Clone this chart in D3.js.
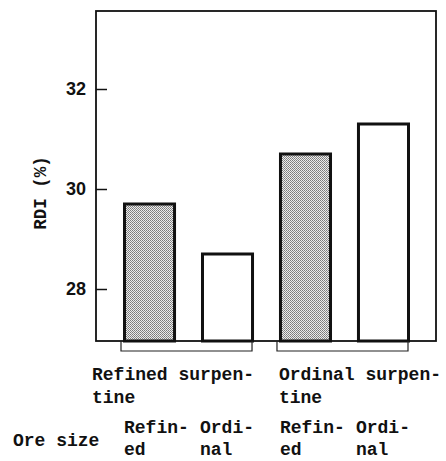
<!DOCTYPE html>
<html lang="en">
<head>
<meta charset="UTF-8">
<title>RDI by ore size</title>
<style>
  body { margin: 0; background: #fff; }
  text { fill: #111; }
</style>
</head>
<body>
<svg id="chart" width="446" height="461"></svg>
<script src="https://cdn.jsdelivr.net/npm/d3@7"></script>
<script>
// bars, left to right
var barKeys = ["rs-refined", "rs-ordinal", "os-refined", "os-ordinal"];
var rdiValues = [29.7, 28.7, 30.7, 31.3];
var shaded = [true, false, true, false];
var oreSizeLabels = [["Refin-", "ed"], ["Ordi-", "nal"], ["Refin-", "ed"], ["Ordi-", "nal"]];

// serpentine groups (first bar index, last bar index)
var groupLabels = [["Refined surpen-", "tine"], ["Ordinal surpen-", "tine"]];
var groupSpans = [[0, 1], [2, 3]];

var yTicks = [28, 30, 32];

var svg = d3.select("#chart");
var mono = "'Liberation Mono', 'DejaVu Sans Mono', monospace";
var labelSize = 18;

var box = { left: 96, right: 436, top: 11, bottom: 341 };

var y = d3.scaleLinear().domain([26.96, 33.56]).range([box.bottom, box.top]);
var x = d3.scaleBand().domain(barKeys).range([123, 410]).paddingInner(0.32).paddingOuter(0);

// stipple pattern for the shaded bars
var pat = svg.append("defs").append("pattern")
    .attr("id", "stipple")
    .attr("width", 2).attr("height", 2)
    .attr("patternUnits", "userSpaceOnUse");
pat.append("rect").attr("width", 2).attr("height", 2).attr("fill", "#ececec");
pat.append("rect").attr("width", 1).attr("height", 1).attr("fill", "#7a7a7a");
pat.append("rect").attr("x", 1).attr("y", 1).attr("width", 1).attr("height", 1).attr("fill", "#8c8c8c");

// bars
svg.append("g").selectAll("rect")
    .data(rdiValues)
    .join("rect")
    .attr("x", (d, i) => x(barKeys[i]) + 1.5)
    .attr("y", d => y(d))
    .attr("width", x.bandwidth() - 3)
    .attr("height", d => box.bottom - y(d))
    .attr("fill", (d, i) => shaded[i] ? "url(#stipple)" : "#fff")
    .attr("stroke", "#111")
    .attr("stroke-width", 3);

// frame
svg.append("rect")
    .attr("x", box.left).attr("y", box.top)
    .attr("width", box.right - box.left).attr("height", box.bottom - box.top)
    .attr("fill", "none").attr("stroke", "#111").attr("stroke-width", 1.8);

// y axis: ticks inside the frame
var yAxis = d3.axisRight(y).tickValues(yTicks).tickSize(11).tickFormat(d3.format("d"));
var ya = svg.append("g").attr("transform", "translate(" + box.left + ",0)").call(yAxis);
ya.select(".domain").remove();
ya.selectAll(".tick line").attr("stroke", "#111").attr("stroke-width", 1.5);
ya.selectAll(".tick text")
    .attr("x", -10)
    .attr("text-anchor", "end")
    .attr("font-family", "'Liberation Sans', Arial, sans-serif")
    .attr("font-weight", "bold")
    .attr("font-size", 18)
    .attr("fill", "#111");

svg.append("text")
    .attr("transform", "translate(46,193) rotate(-90)")
    .attr("text-anchor", "middle")
    .attr("font-family", mono)
    .attr("font-size", 17.5)
    .attr("font-weight", "bold")
    .text("RDI (%)");

// group brackets under the axis
var brackets = svg.append("g").attr("fill", "none").attr("stroke", "#222").attr("stroke-width", 1.2);
groupSpans.forEach(function (s) {
    var x0 = x(barKeys[s[0]]) - 2, x1 = x(barKeys[s[1]]) + x.bandwidth() - 2;
    brackets.append("path").attr("d", "M" + x0 + "," + box.bottom + "V351H" + x1 + "V" + box.bottom);
});

// group labels
groupLabels.forEach(function (lines, g) {
    var t = svg.append("text")
        .attr("font-family", mono).attr("font-size", labelSize).attr("font-weight", "bold")
        .attr("x", x(barKeys[groupSpans[g][0]]) - 31 + g * 31);
    lines.forEach(function (ln, k) {
        t.append("tspan").attr("x", t.attr("x")).attr("y", 380 + k * 23).text(ln);
    });
});

// ore size row
svg.append("text")
    .attr("x", 13).attr("y", 446)
    .attr("font-family", mono).attr("font-size", labelSize).attr("font-weight", "bold")
    .text("Ore size");

oreSizeLabels.forEach(function (lines, i) {
    var t = svg.append("text")
        .attr("font-family", mono).attr("font-size", labelSize).attr("font-weight", "bold");
    var lx = x(barKeys[i]) + (i % 2 === 0 ? 1 : -1);
    lines.forEach(function (ln, k) {
        t.append("tspan").attr("x", lx).attr("y", 433 + k * 22).text(ln);
    });
});
</script>
</body>
</html>
